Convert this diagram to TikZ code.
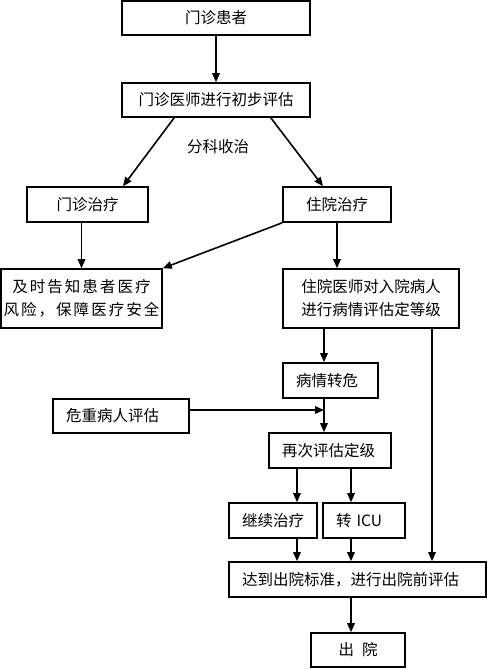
\documentclass[tikz,border=0pt]{standalone}
\usepackage{fontspec}
\setmainfont{Noto Sans CJK SC}
\newfontfamily\widecjk[LetterSpace=13]{Noto Sans CJK SC}
\usetikzlibrary{arrows.meta}

\begin{document}
\begin{tikzpicture}[x=1pt, y=-1pt,
    flowbox/.style={draw, line width=1.6pt, inner sep=0pt, minimum height=35pt, align=center, font=\fontsize{15.5}{23}\selectfont},
    leftbox/.style={flowbox, inner xsep=13pt, align=left},
    flowarr/.style={-{Triangle[length=9pt, width=7.5pt]}, line width=1.6pt}]
    \useasboundingbox (0,0) rectangle (488,669);

    % Outpatient part
    \node[flowbox, minimum width=188pt, minimum height=34pt] (huanzhe) at (216,18) {门诊患者};
    \node[flowbox, minimum width=188pt, minimum height=34pt] (pinggu) at (216,100) {门诊医师进行初步评估};
    \node[font=\fontsize{15.5}{19}\selectfont] (fenke) at (218,147) {分科收治};
    \node[flowbox, minimum width=121pt] (menzhen) at (87.5,204.5) {门诊治疗};
    \node[flowbox, minimum width=108pt] (zhuyuan) at (337,204.5) {住院治疗};
    \node[flowbox, minimum width=161pt, minimum height=59pt, font=\fontsize{15.5}{23}\widecjk] (gaozhi) at (81.5,298.5) {及时告知患者医疗\\风险，保障医疗安全};
    \node[flowbox, minimum width=176pt, minimum height=59pt] (dengji) at (371,298.5) {住院医师对入院病人\\进行病情评估定等级};

    % Inpatient part
    \node[leftbox, text width=69pt] (zhuanwei) at (330.5,380.5) {病情转危};
    \node[leftbox, text width=110pt, minimum height=34pt] (weizhong) at (121,416) {危重病人评估};
    \node[leftbox, text width=96pt] (zaici) at (330,450.5) {再次评估定级};
    \node[leftbox, text width=62pt] (jixu) at (273,520.5) {继续治疗};
    \node[leftbox, text width=56pt] (icu) at (364,520.5) {转 ICU};
    \node[leftbox, text width=231pt] (chuyuanqian) at (357.5,579.5) {达到出院标准，进行出院前评估};
    \node[flowbox, minimum width=94pt, minimum height=34pt] (chuyuan) at (358,650) {出\hspace{8pt}院};

    % Lanes for the vertical arrows
    \coordinate (spine) at (324,0);
    \coordinate (join) at (324,410);
    \coordinate (lane1) at (297,0);
    \coordinate (lane2) at (351,0);
    \coordinate (lane3) at (432,0);

    % Arrows
    \draw[flowarr] (huanzhe) -- (pinggu);
    \draw[flowarr] ([xshift=53pt]pinggu.south west) -- ([xshift=35.5pt]menzhen.north);
    \draw[flowarr] ([xshift=-40pt]pinggu.south east) -- ([xshift=-14pt]zhuyuan.north);
    \draw[flowarr] ([xshift=-6pt]menzhen.south) -- (gaozhi.north);
    \draw[flowarr] (zhuyuan.south west) -- (gaozhi.north east);
    \draw[flowarr] (zhuyuan.south) -- (zhuyuan.south |- dengji.north);
    \draw[flowarr] (spine |- dengji.south) -- (spine |- zhuanwei.north);
    \draw[flowarr] (spine |- zhuanwei.south) -- (spine |- zaici.north);
    \draw[flowarr] (weizhong.east |- join) -- (join);
    \draw[flowarr] (lane1 |- zaici.south) -- (lane1 |- jixu.north);
    \draw[flowarr] (lane2 |- zaici.south) -- (lane2 |- icu.north);
    \draw[flowarr] (lane1 |- jixu.south) -- (lane1 |- chuyuanqian.north);
    \draw[flowarr] (lane2 |- icu.south) -- (lane2 |- chuyuanqian.north);
    \draw[flowarr] (lane3 |- dengji.south) -- (lane3 |- chuyuanqian.north);
    \draw[flowarr] (lane2 |- chuyuanqian.south) -- (lane2 |- chuyuan.north);
\end{tikzpicture}
\end{document}
